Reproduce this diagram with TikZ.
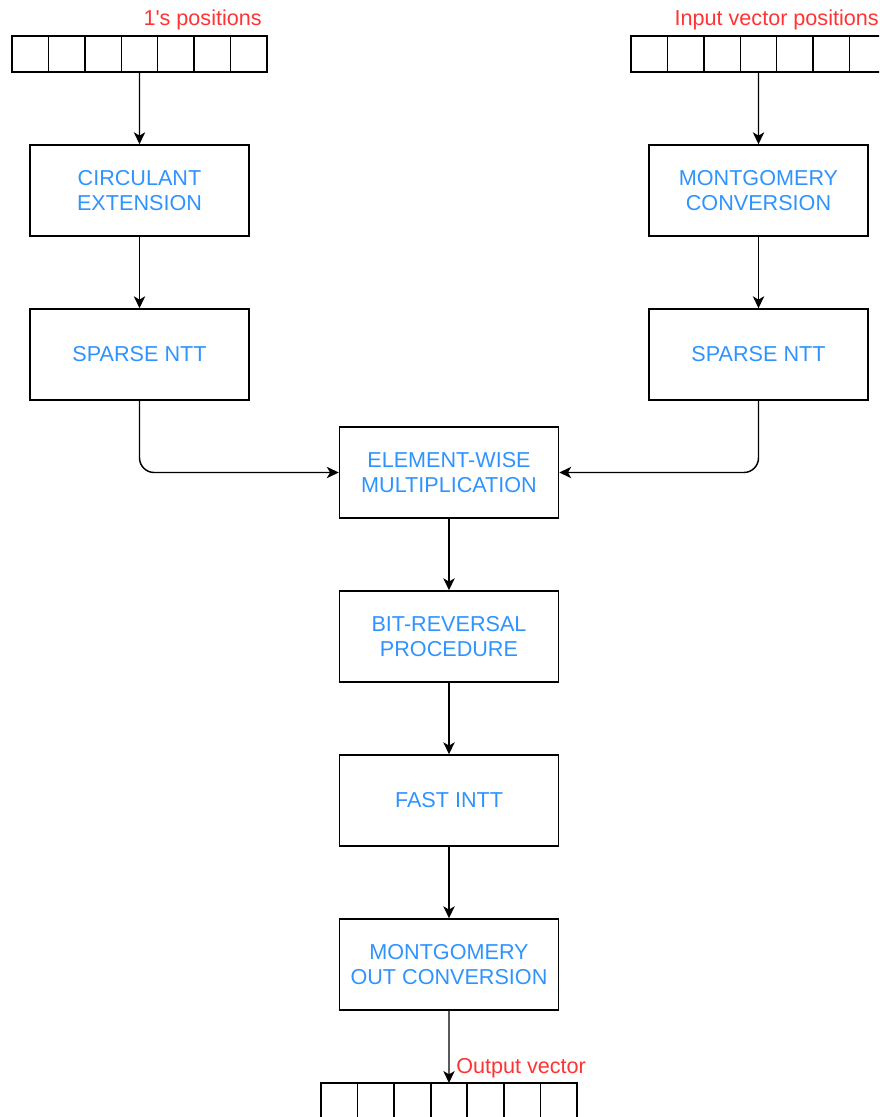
\documentclass[tikz,border=0pt]{standalone}
\usepackage{fontspec}
\setmainfont{Liberation Sans}
\usetikzlibrary{arrows.meta}
\definecolor{labelblue}{HTML}{2F93FF}
\definecolor{notered}{HTML}{FF3333}
\begin{document}
\begin{tikzpicture}[x=0.75pt,y=-0.75pt,
  stage/.style={draw, line width=1.1pt, minimum width=164.25pt, minimum height=68.25pt,
    inner sep=0pt, align=center, text=labelblue, font=\fontsize{16.2}{18.6}\selectfont},
  cell/.style={draw, line width=1.1pt, minimum width=27.3pt, minimum height=27pt,
    inner sep=0pt, outer sep=0pt},
  flow/.style={line width=1.1pt, -{Stealth[length=9pt,width=8.5pt,inset=2.5pt]}},
  note/.style={text=notered, font=\fontsize{16.2}{18.6}\selectfont, inner sep=0pt}]
\useasboundingbox (0,0) rectangle (879,1117);
\clip (0,0) rectangle (879,1117);

% input and output arrays
\foreach \i in {1,...,7} {
  \node[cell] (l\i) at ({12+36.43*(\i-0.5)},54) {};
  \node[cell] (r\i) at ({631+36.43*(\i-0.5)},54) {};
  \node[cell] (o\i) at ({321+36.57*(\i-0.5)},1101) {};
}
\node[note, anchor=base east] (lblL) at (262,26) {1{\textquotesingle}s positions};
\node[note, anchor=base east] (lblR) at (879,26) {Input vector positions};
\node[note, anchor=base west] (lblO) at (456,1073) {Output vector};

% processing stages
\node[stage] (circ) at (139.5,190.5) {CIRCULANT\\EXTENSION};
\node[stage] (snl)  at (139.5,354.5) {SPARSE NTT};
\node[stage] (mont) at (758.5,190.5) {MONTGOMERY\\CONVERSION};
\node[stage] (snr)  at (758.5,354.5) {SPARSE NTT};
\node[stage] (ewm)  at (449,472.5) {ELEMENT-WISE\\MULTIPLICATION};
\node[stage] (bitr) at (449,636.5) {BIT-REVERSAL\\PROCEDURE};
\node[stage] (intt) at (449,800.5) {FAST INTT};
\node[stage] (mout) at (449,964.5) {MONTGOMERY\\OUT CONVERSION};

% connectors
\draw[flow] (l4.south) -- (circ.north);
\draw[flow] (circ.south) -- (snl.north);
\draw[flow] (r4.south) -- (mont.north);
\draw[flow] (mont.south) -- (snr.north);
\draw[flow, rounded corners=11pt] (snl.south) |- (ewm.west);
\draw[flow, rounded corners=11pt] (snr.south) |- (ewm.east);
\draw[flow] (ewm.south) -- (bitr.north);
\draw[flow] (bitr.south) -- (intt.north);
\draw[flow] (intt.south) -- (mout.north);
\draw[flow] (mout.south) -- (o4.north);
\end{tikzpicture}
\end{document}
